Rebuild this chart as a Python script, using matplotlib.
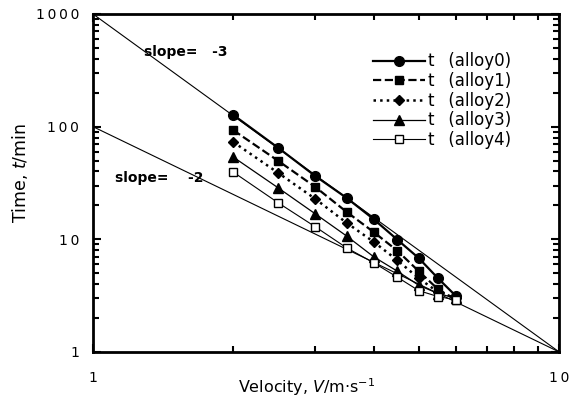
import matplotlib.pyplot as plt
import numpy as np
from matplotlib.ticker import FixedLocator, NullFormatter

# data
velocity = [2.0, 2.5, 3.0, 3.5, 4.0, 4.5, 5.0, 5.5, 6.0]
t_alloy0 = [127, 64.6, 36.4, 23.3, 15.1, 9.9, 6.8, 4.5, 3.15]
t_alloy1 = [93, 49.5, 29.1, 17.5, 11.6, 7.9, 5.2, 3.6, 2.9]
t_alloy2 = [73, 38.7, 22.8, 14.0, 9.5, 6.5, 4.5, 3.4, 3.0]
t_alloy3 = [53.7, 28.5, 16.8, 10.7, 7.0, 5.2, 3.9, 3.3, 3.0]
t_alloy4 = [39.5, 21.0, 12.9, 8.4, 6.2, 4.6, 3.5, 3.1, 2.9]
labels = ['t  \u2009(alloy0)', 't  \u2009(alloy1)', 't  \u2009(alloy2)',
          't  \u2009(alloy3)', 't  \u2009(alloy4)']

# reference lines: t = 1000 V^-3 and t = 100 V^-2
ref_v = [1, 10]
ref_slope3 = [1000, 1]
ref_slope2 = [100, 1]

x_ticks = [1, 10]
y_ticks = [1, 10, 100, 1000]

plt.rcParams['font.family'] = ['DejaVu Sans']

fig = plt.figure(figsize=(5.77, 3.99), dpi=100)
ax = fig.add_axes([0.161, 0.118, 0.808, 0.847])

ax.plot(ref_v, ref_slope3, color='black', lw=0.8)
ax.plot(ref_v, ref_slope2, color='black', lw=0.8)

ax.plot(velocity, t_alloy0, '-', color='black', lw=1.6, marker='o', ms=7, label=labels[0])
ax.plot(velocity, t_alloy1, '--', color='black', lw=1.6, marker='s', ms=6, label=labels[1])
ax.plot(velocity, t_alloy2, ':', color='black', lw=1.8, marker='D', ms=5, label=labels[2])
ax.plot(velocity, t_alloy3, '-', color='black', lw=0.9, marker='^', ms=6.5, label=labels[3])
ax.plot(velocity, t_alloy4, '-', color='black', lw=0.8, marker='s', ms=6,
        markerfacecolor='white', label=labels[4])

ax.set_xscale('log')
ax.set_yscale('log')
ax.set_xlim(1, 10)
ax.set_ylim(1, 1000)

ax.xaxis.set_major_locator(FixedLocator(x_ticks))
ax.set_xticklabels(['\u2009'.join(str(v)) for v in x_ticks])
ax.yaxis.set_major_locator(FixedLocator(y_ticks))
ax.set_yticklabels(['\u2009'.join(str(v)) for v in y_ticks])
ax.xaxis.set_minor_formatter(NullFormatter())
ax.yaxis.set_minor_formatter(NullFormatter())

ax.tick_params(which='both', direction='in', top=True, right=True, width=1.5, labelsize=10)
ax.tick_params(which='major', length=6)
ax.tick_params(axis='x', which='major', pad=13.5)
ax.tick_params(axis='y', which='major', pad=10)
ax.tick_params(which='minor', length=4)
for s in ax.spines.values():
    s.set_linewidth(2)

ax.text(1.29, 459, 'slope=   -3', fontsize=10, fontweight='bold', va='center', ha='left')
ax.text(1.115, 35, 'slope=    -2', fontsize=10, fontweight='bold', va='center', ha='left')

ax.set_xlabel(r'Velocity, $V$/m$\cdot$s$^{-1}$', fontsize=11.5)
ax.set_ylabel(r'Time, $t$/min', fontsize=12.5)
ax.xaxis.set_label_coords(0.459, -0.072)
ax.yaxis.set_label_coords(-0.135, 0.53)

ax.legend(loc='upper left', bbox_to_anchor=(0.601, 0.886), frameon=False, fontsize=12,
          handlelength=3.1, labelspacing=0.1, handletextpad=0.2,
          borderpad=0, borderaxespad=0)

fig.savefig('out.png', dpi=100)
